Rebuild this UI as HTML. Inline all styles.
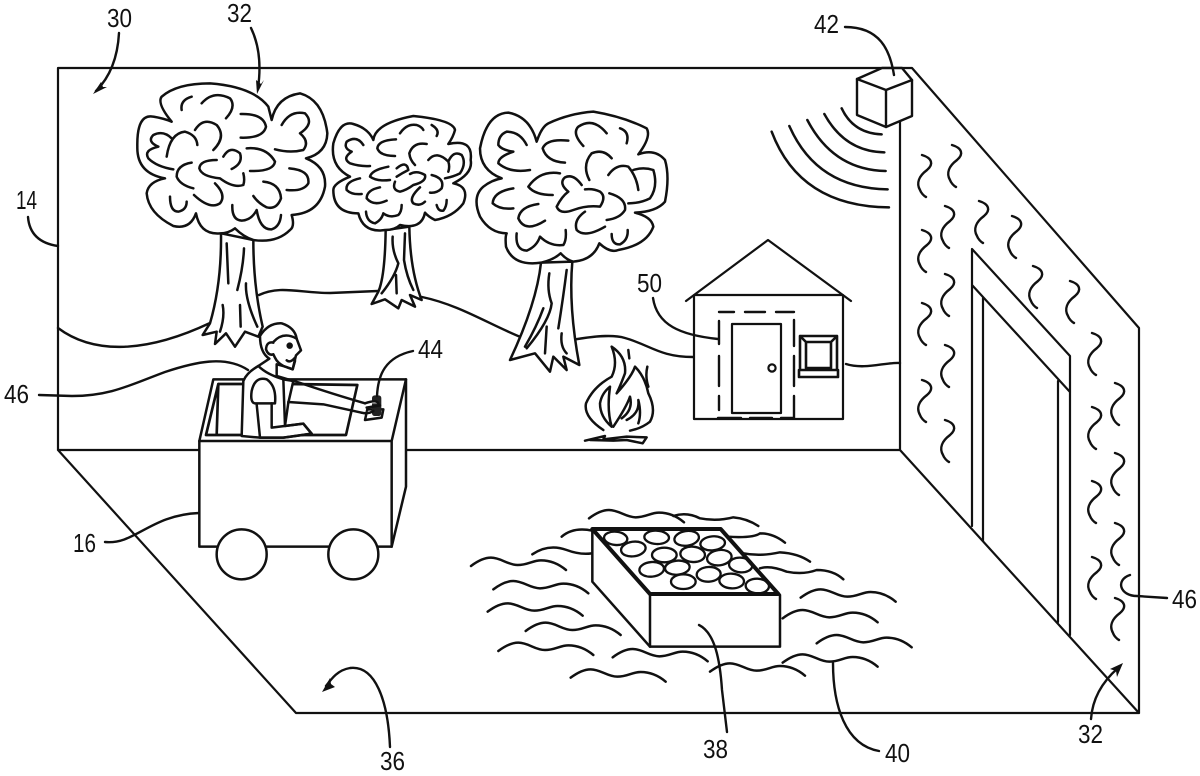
<!DOCTYPE html>
<html><head><meta charset="utf-8"><title>Diagram</title>
<style>html,body{margin:0;padding:0;background:#fff}svg{display:block}text{font-family:"Liberation Sans",sans-serif;font-size:26px;fill:#111}</style></head>
<body>
<svg width="1200" height="776" viewBox="0 0 1200 776" xmlns="http://www.w3.org/2000/svg">
<defs>
<path id="sq" d="M0 0C10 3 12 9 5 15C-3 21-6 28-2 35C-1 38 2 41 4 42"/>
<path id="w" d="M0 0C20-15 40-25 60-25C90-25 110-3 140-3C170-3 185-17 210-17C240-17 265-5 285 12"/>
</defs>
<g fill="none" stroke="#111" stroke-width="2.2" stroke-linecap="round" stroke-linejoin="round">
<!-- room -->
<path d="M58 450V68H912L1139 328V713H296L58 450H900V120M900 450L1139 713"/>
<!-- door -->
<path d="M972 526V249L1070 356V635M972 285L1070 392M983 541V298M1058 622V381"/>
<!-- squiggles -->
<g stroke-width="2.4">
<use href="#sq" x="922" y="155"/><use href="#sq" x="922" y="230"/><use href="#sq" x="922" y="303"/><use href="#sq" x="922" y="380"/>
<use href="#sq" x="952" y="145"/><use href="#sq" x="945" y="206"/><use href="#sq" x="945" y="274"/><use href="#sq" x="945" y="345"/><use href="#sq" x="945" y="420"/>
<use href="#sq" x="979" y="201"/><use href="#sq" x="1012" y="216"/><use href="#sq" x="1033" y="266"/><use href="#sq" x="1070" y="281"/>
<use href="#sq" x="1092" y="333"/><use href="#sq" x="1092" y="407"/><use href="#sq" x="1092" y="481"/><use href="#sq" x="1092" y="557"/>
<use href="#sq" x="1115" y="383"/><use href="#sq" x="1115" y="453"/><use href="#sq" x="1115" y="523"/><use href="#sq" x="1115" y="598"/>
</g>
<!-- ground lines -->
<g stroke-width="2.4">
<path d="M58 328C90 352 140 356 210 323"/>
<path d="M259 295C280 285 300 293 330 293L378 291"/>
<path d="M422 297C460 305 490 325 523 338"/>
<path d="M572 340C600 335 615 335 625 338C650 345 660 357 693 357"/>
<path d="M846 364C865 370 885 362 900 363"/>
</g>
<!-- tree 1 -->
<g transform="translate(120 70) scale(.33333)" stroke-width="7.5">
<path fill="#fff" d="M303 490Q305 640 270 760L248 795L290 785L285 822L318 790L345 830L375 785L415 800L428 770Q400 650 400 510Z"/>
<path d="M320 520L325 640M372 535Q370 590 352 660M378 640Q375 690 412 770M308 705Q315 740 300 785M360 705L362 770"/>
<path fill="#fff" d="M300 490Q240 495 228 430Q210 480 160 468Q85 430 80 370Q85 335 135 325Q50 310 52 230Q50 130 100 140Q130 145 155 155Q110 100 125 80Q170 40 270 40Q400 50 445 110Q450 130 455 150Q470 80 540 70Q610 90 622 190Q620 250 558 265Q620 290 615 350Q600 430 515 435Q525 470 510 480Q470 520 400 510Q370 500 345 475Q325 490 300 490Z"/>
<path d="M185 120Q180 90 215 80M245 100Q280 60 330 85Q350 110 318 145M362 132Q430 130 438 170Q430 205 362 203M485 165Q510 120 555 130Q585 160 540 190Q570 215 550 240Q510 250 465 238M225 180Q250 140 290 165Q320 200 280 240M140 260Q150 190 195 185Q230 195 232 225M155 205Q130 180 100 195Q80 215 115 230Q70 240 85 265Q110 290 160 298M215 278Q170 285 170 320Q180 345 220 355M290 270Q240 270 238 295Q245 320 300 325Q340 355 370 345Q375 330 370 310M310 260Q330 225 360 250Q370 280 335 297M380 235Q440 230 465 275Q460 305 390 303M508 295Q570 300 565 340Q550 365 500 360M430 335Q480 340 483 385Q470 420 440 412Q415 400 400 378M285 340Q320 375 300 400Q270 420 222 375M150 380Q150 425 175 425Q200 420 200 395M337 405Q335 450 365 452Q395 450 410 420Q420 480 455 478Q480 470 483 435"/>
</g>
<!-- tree 2 -->
<g transform="translate(120 70) scale(.33333)" stroke-width="7.5">
<path fill="#fff" d="M797 480Q795 620 775 665L755 702L795 688L835 715L845 690L885 710L870 675L905 690Q870 600 868 470Z"/>
<path d="M818 500Q815 540 835 580Q825 620 785 670M855 490L852 570Q860 620 880 660M828 615L830 670"/>
<path fill="#fff" d="M795 480Q730 490 715 430Q640 430 640 360Q640 340 690 320Q630 290 640 220Q660 150 700 162Q745 175 760 210Q765 160 880 138Q1000 150 1005 180Q1000 200 985 222Q1060 205 1052 270Q1060 310 1000 340Q1050 350 1030 400Q1000 440 945 450Q925 440 915 428Q905 480 840 465Q825 480 795 480Z"/>
<path d="M730 225Q710 195 680 215Q670 235 695 245Q665 265 690 280Q720 290 750 288M828 208Q775 210 772 235Q780 258 825 258M840 190Q860 160 890 165Q905 170 910 180M935 165Q960 180 950 198M920 222Q880 215 868 250Q870 270 885 285M925 270Q950 240 985 275Q990 290 985 305M985 275Q1000 240 1025 255Q1040 280 1020 310Q1000 320 975 325M805 290Q755 300 750 320Q770 335 810 330M830 295Q860 270 865 300Q845 310 830 320M825 335Q815 360 840 365Q860 360 880 345Q920 335 915 315Q890 300 870 312M935 315Q975 325 965 355Q950 370 930 368M720 325Q675 335 680 360Q695 375 725 372M780 352Q740 360 740 385Q760 410 800 392M900 352Q865 385 880 400Q900 410 915 395M738 425Q740 455 765 460Q785 450 790 430Q810 445 835 435Q845 425 845 405M950 405Q955 425 970 422Q980 410 980 390"/>
</g>
<!-- tree 3 -->
<g transform="translate(470 90) scale(.33333)" stroke-width="7.5">
<path fill="#fff" d="M213 518Q200 640 120 810L195 790L240 845L250 800L290 840L280 800L328 825Q295 650 307 515Z"/>
<path d="M238 550Q230 600 245 640Q240 690 170 775M290 540Q280 620 265 715M220 655Q200 710 165 770M230 710L225 790M275 730Q270 770 290 790"/>
<path fill="#fff" d="M213 518Q130 530 108 470Q105 440 110 430Q60 430 30 380Q5 320 40 290Q65 270 95 265Q30 240 30 175Q50 70 115 68Q180 80 200 155Q215 110 235 100Q300 70 370 65Q460 80 530 115Q545 140 505 193Q555 175 585 210Q600 260 585 335Q560 365 495 368Q545 380 550 410Q530 465 445 480Q420 490 388 460Q370 510 310 515Q290 510 272 490Q250 510 213 518Z"/>
<path d="M170 165Q150 125 110 125Q85 135 85 165Q95 180 130 185Q85 200 85 220Q120 250 180 240M295 152Q230 145 218 175Q230 215 285 218M340 168Q305 130 325 110Q370 80 410 130M450 115Q480 125 470 160M425 205Q400 175 365 190Q335 225 358 270M415 255Q440 220 475 230Q500 260 505 300M490 240Q520 230 550 240Q565 290 540 325Q510 340 475 340M270 250Q210 240 175 290Q195 315 248 315M335 285Q310 250 285 262Q265 280 295 305Q275 320 260 350Q270 375 310 360Q350 345 390 350Q410 320 390 305Q370 295 345 298M418 310Q470 325 465 360Q450 385 410 390M345 365Q310 390 320 420Q345 445 405 410M130 295Q70 305 68 340Q90 360 130 355M205 342Q150 350 145 385Q165 430 225 392M140 430Q135 480 170 482Q200 470 210 440Q240 470 280 465Q290 450 287 420M425 432Q425 465 450 463Q475 450 473 420"/>
</g>
<!-- house -->
<path d="M694 295V419H843V295ZM686 301L768 240L851 301"/>
<path fill="#fff" d="M732 324H781V413H732Z"/>
<circle cx="772" cy="368" r="3.6" fill="#fff"/>
<path stroke-width="2.4" d="M719 344V321M719 356V386M719 396V410M719 312H734M745 312H765M776 312H794M794 320V346M794 356V386M794 396V418M718 418H741M750 418H772M781 418H794"/>
<path stroke-width="2.6" d="M800 336H837V370H800ZM806 342H831V368H806ZM800 336L806 342M837 336L831 342M799 370H838V377H799Z"/>
<!-- fire -->
<g transform="translate(570 230) scale(.33333)" stroke-width="7.5">
<path d="M100 600Q40 560 48 520Q70 470 125 440Q145 400 125 350Q170 380 165 430Q150 470 140 490Q185 440 195 410Q225 440 235 490Q260 540 240 575Q215 595 180 602"/>
<path d="M125 590Q90 560 90 520Q95 490 120 470Q110 540 125 590M130 590Q170 530 180 500Q190 540 155 565M170 570Q210 550 205 510Q215 550 205 580M175 360L178 385M232 410Q225 440 235 470"/>
<path d="M45 632L105 618L100 628L170 620L230 622L218 640L170 630L130 632L60 630"/>
</g>
<!-- cube and waves -->
<g stroke-width="2.4">
<path fill="#fff" d="M857 79L882 68H902L912 80V116L886 127L857 115Z"/>
<path d="M857 79L886 90L912 80M886 90V127"/>
<g transform="translate(770 0) scale(.33333)" stroke-width="7.5">
<path d="M215 325Q250 400 335 403M163 342Q225 455 343 457M112 360Q190 510 347 513M58 378Q140 565 353 568M5 395Q90 620 357 622"/>
</g>
</g>
<!-- water and pallet -->
<g transform="translate(470 490) scale(.33333)" stroke-width="7.5">
<use href="#w" x="3" y="228"/><use href="#w" x="70" y="298"/><use href="#w" x="53" y="365"/><use href="#w" x="167" y="423"/><use href="#w" x="85" y="483"/><use href="#w" x="302" y="563"/><use href="#w" x="428" y="502"/><use href="#w" x="720" y="545"/><use href="#w" x="938" y="518"/><use href="#w" x="1040" y="460"/><use href="#w" x="938" y="385"/><use href="#w" x="992" y="323"/><use href="#w" x="357" y="85"/>
<path d="M610 78Q650 65 690 85Q740 95 790 82Q830 85 865 108M275 140Q310 110 367 122M187 193Q235 160 290 180Q330 195 365 190M770 140Q850 145 870 130Q910 130 945 158M820 190Q870 200 930 187Q985 190 1020 215M870 235Q900 225 950 245Q1000 255 1040 240Q1090 240 1120 268"/>
<path fill="#fff" stroke-width="7.5" d="M367 117V275L540 470H930V315L752 117Z"/>
<path d="M540 315V470"/>
<g fill="#fff" stroke-width="7">
<ellipse cx="437" cy="145" rx="35" ry="20" transform="rotate(5 437 145)"/><ellipse cx="490" cy="177" rx="37" ry="22" transform="rotate(-8 490 177)"/><ellipse cx="560" cy="142" rx="37" ry="20" transform="rotate(3 560 142)"/><ellipse cx="650" cy="145" rx="37" ry="22" transform="rotate(-8 650 145)"/><ellipse cx="728" cy="160" rx="37" ry="21" transform="rotate(-5 728 160)"/><ellipse cx="583" cy="195" rx="37" ry="22"/><ellipse cx="668" cy="193" rx="37" ry="23" transform="rotate(5 668 193)"/><ellipse cx="748" cy="203" rx="37" ry="23" transform="rotate(-8 748 203)"/><ellipse cx="812" cy="225" rx="35" ry="22" transform="rotate(5 812 225)"/><ellipse cx="545" cy="238" rx="37" ry="22" transform="rotate(-5 545 238)"/><ellipse cx="622" cy="233" rx="37" ry="21" transform="rotate(-5 622 233)"/><ellipse cx="716" cy="253" rx="36" ry="22" transform="rotate(-3 716 253)"/><ellipse cx="640" cy="275" rx="37" ry="22"/><ellipse cx="785" cy="273" rx="37" ry="22" transform="rotate(3 785 273)"/><ellipse cx="862" cy="288" rx="35" ry="22" transform="rotate(3 862 288)"/>
</g>
<path stroke-width="12" d="M367 117H752L925 312H540Z"/>
</g>
<!-- cart -->
<g transform="translate(190 310) scale(.33333)" stroke-width="7.5">
<path fill="#fff" d="M28 393L70 208H648V530L605 710H28Z"/>
<path d="M28 393H605L648 208M605 393V710"/>
<path stroke-width="8" d="M85 222H155M300 222L502 225L468 375H48L85 222L80 375"/>
<circle cx="155" cy="733" r="75" fill="#fff"/><circle cx="490" cy="733" r="75" fill="#fff"/>
</g>
<!-- person -->
<g transform="translate(240 316) scale(.33333)" stroke-width="7.5">
<path fill="#fff" d="M60 60Q85 20 125 22Q165 35 170 68L183 103L168 118L158 160L130 150L110 145V180L160 195L145 260L135 330L190 323L215 353L130 365H60L5 360L10 195Q20 170 55 150L88 128Q60 110 60 60Z"/>
<path d="M100 78Q130 45 170 68M100 80Q80 75 78 100Q85 120 100 115L105 125Q112 140 130 150L158 160L165 135M140 133Q150 142 165 125"/>
<circle cx="149" cy="89" r="6" fill="#111"/>
<path d="M55 150Q80 175 130 190L160 195"/>
<path fill="#fff" d="M35 225Q45 180 80 190Q110 210 105 262L45 262Q30 260 35 225Z"/>
<path d="M50 265L60 365M95 262V335L190 323L215 353M60 365L130 365Q170 360 215 353M130 190L135 330M163 195Q280 235 375 262M145 258L250 265L365 290"/>
<path fill="#fff" d="M382 280L375 312L425 305L430 280Z"/>
<rect x="396" y="238" width="28" height="62" rx="8" fill="#222" stroke="none"/>
<path stroke="#111" fill="#fff" d="M375 262Q410 250 415 262M380 275L420 268M365 290Q385 295 400 285"/>
</g>
<!-- leaders -->
<path stroke-width="2.4" d="M119 33Q117 70 96 91M251 28Q263 53 258 88M28 217Q30 242 58 246M39 395L72 396C110 396 130 385 165 372C195 362 225 355 248 370M105 542C135 545 150 515 199 513M845 27C880 27 890 50 894 75M377 396C378 375 385 357 413 351M653 298C657 325 680 335 718 339M390 747C388 700 375 665 350 668C338 670 332 678 326 686M833 663C833 705 845 745 879 751M699 625C715 633 720 660 722 690L727 732M1091 719Q1093 690 1118 668M1130 575C1115 580 1120 596 1137 596L1167 598"/>
</g>
<g fill="#111" stroke="none">
<polygon points="93,94 101,82 103,87 107,87"/>
<polygon points="257,94 256,80 261,84 264,80"/>
<polygon points="322,692 330,678 331,684 335,687"/>
<polygon points="1123,663 1110,669 1116,671 1117,677"/>
</g>
<g>
<text x="107" y="27" textLength="25" lengthAdjust="spacingAndGlyphs">30</text>
<text x="227" y="22" textLength="25" lengthAdjust="spacingAndGlyphs">32</text>
<text x="16" y="209" textLength="21" lengthAdjust="spacingAndGlyphs">14</text>
<text x="4" y="403" textLength="25" lengthAdjust="spacingAndGlyphs">46</text>
<text x="73" y="552" textLength="23" lengthAdjust="spacingAndGlyphs">16</text>
<text x="380" y="770" textLength="25" lengthAdjust="spacingAndGlyphs">36</text>
<text x="703" y="758" textLength="25" lengthAdjust="spacingAndGlyphs">38</text>
<text x="885" y="762" textLength="25" lengthAdjust="spacingAndGlyphs">40</text>
<text x="1078" y="743" textLength="25" lengthAdjust="spacingAndGlyphs">32</text>
<text x="1172" y="608" textLength="25" lengthAdjust="spacingAndGlyphs">46</text>
<text x="814" y="33" textLength="25" lengthAdjust="spacingAndGlyphs">42</text>
<text x="418" y="358" textLength="25" lengthAdjust="spacingAndGlyphs">44</text>
<text x="637" y="292" textLength="25" lengthAdjust="spacingAndGlyphs">50</text>
</g>
</svg>
</body></html>
